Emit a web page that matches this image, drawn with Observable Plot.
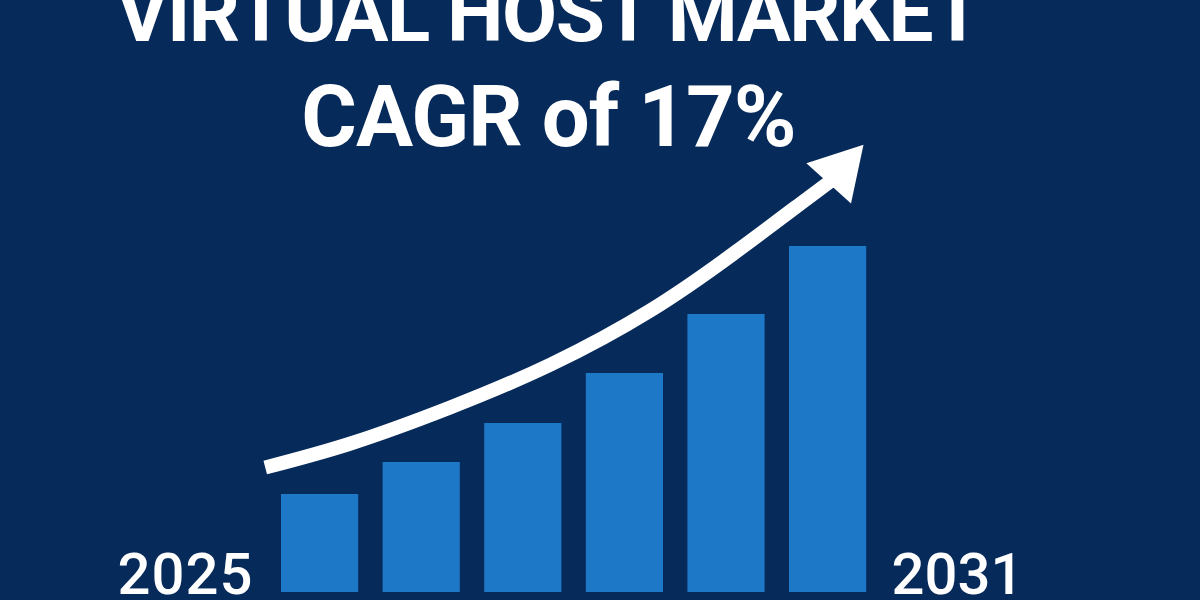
<!DOCTYPE html>
<html><head><meta charset="utf-8">
<script src="https://cdn.jsdelivr.net/npm/d3@7"></script>
<script src="https://cdn.jsdelivr.net/npm/@observablehq/plot@0.6"></script>
<style>
html,body{margin:0;padding:0;background:#062a5a;overflow:hidden}
#chart svg{display:block}
.t1 text{letter-spacing:-1.5px}
.t2 text{letter-spacing:-1px}
.yr text{letter-spacing:1px}
</style></head><body><div id="chart"></div>
<script>
// Bars (six periods between 2025 and 2031), relative market size
const periods = [1, 2, 3, 4, 5, 6];
const marketValues = [9.8, 13.0, 16.9, 21.9, 27.8, 34.6];
// Growth arrow path (same units as bars)
const arrowX = [0.46, 1.30, 2.28, 3.27, 4.25, 5.07, 5.73, 6.02];
const arrowY = [12.5, 14.9, 18.5, 22.8, 28.2, 33.9, 38.9, 41.1];
const headX = [6.12];
const headY = [42.2];
const titleLines = ["VIRTUAL HOST MARKET", "CAGR of 17%"];
const yearLabels = ["2025", "2031"];

const bars = periods.map((p, i) => ({p, v: marketValues[i]}));
const arrow = arrowX.map((x, i) => ({x, y: arrowY[i]}));
const head = headX.map((x, i) => ({x, y: headY[i]}));

const chart = Plot.plot({
  width: 1200,
  height: 600,
  margin: 0,
  style: {background: "#062a5a", fontFamily: "Roboto"},
  x: {domain: [0.5, 6.5], range: [268.8, 878.4], axis: null},
  y: {domain: [0, 59.2], range: [592, 0], axis: null},
  marks: [
    Plot.rectY(bars, {x1: d => d.p - 0.5, x2: d => d.p + 0.5, y: "v", fill: "#1e78c8", insetLeft: 12.2, insetRight: 12.2}),
    Plot.line(arrow, {x: "x", y: "y", stroke: "white", strokeWidth: 14, curve: "natural", strokeLinecap: "butt"}),
    Plot.dot(head, {x: "x", y: "y", symbol: "triangle", r: 22.3, fill: "white", stroke: null, rotate: 42}),
    Plot.text([titleLines[0]], {text: d => d, frameAnchor: "top", dx: -52, dy: 40, lineAnchor: "bottom", fontSize: 80, fontWeight: "bold", fill: "white", className: "t1"}),
    Plot.text([titleLines[1]], {text: d => d, frameAnchor: "top", dx: -52, dy: 145, lineAnchor: "bottom", fontSize: 85, fontWeight: "bold", fill: "white", className: "t2"}),
    Plot.text([yearLabels[0]], {text: d => d, frameAnchor: "bottom-left", textAnchor: "start", dx: 117, dy: -7, lineAnchor: "bottom", fontSize: 58, fontWeight: 500, fill: "white", className: "yr"}),
    Plot.text([yearLabels[1]], {text: d => d, frameAnchor: "bottom-left", textAnchor: "start", dx: 891, dy: -7, lineAnchor: "bottom", fontSize: 58, fontWeight: 500, fill: "white"})
  ]
});
document.getElementById("chart").append(chart);
</script></body></html>
